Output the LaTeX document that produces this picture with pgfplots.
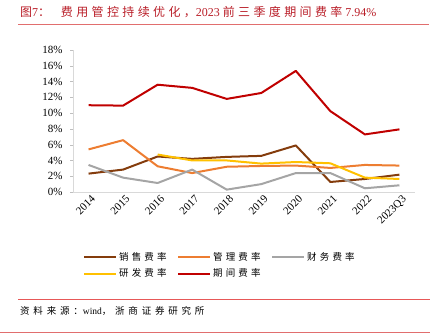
\documentclass[border=0pt]{standalone}
\usepackage{pgfplots}
\pgfplotsset{compat=1.18}
\usepackage{fontspec}
\setmainfont{Liberation Serif}
\newfontfamily\cjk{Noto Sans CJK SC}
\newfontfamily\cjktitle[LetterSpace=28]{Noto Sans CJK SC}
\newfontfamily\cjksrc[LetterSpace=40]{Noto Sans CJK SC}
\newfontfamily\cjkleg[LetterSpace=34]{Noto Sans CJK SC}
\definecolor{cxs}{HTML}{843C0C}
\definecolor{cgl}{HTML}{ED7D31}
\definecolor{ccw}{HTML}{A5A5A5}
\definecolor{cyf}{HTML}{FFC000}
\definecolor{cqj}{HTML}{C00000}
\definecolor{ctitle}{RGB}{185,30,40}
\definecolor{crule}{RGB}{225,110,110}
\begin{document}
\begin{tikzpicture}[x=1pt,y=1pt]
\path[use as bounding box] (0,0) rectangle (443,-336);
\node[anchor=west,text=ctitle,font=\fontsize{12}{14}\selectfont,inner sep=0pt] at (20,-12)
  {{\cjktitle 图}7{\cjktitle ：}\hspace{0.9em}{\cjktitle 费用管控持续优化，}2023 {\cjktitle 前三季度期间费率} 7.94\%};
\draw[crule,line width=1.2pt] (18,-24.5) -- (429,-24.5);
\draw[crule!80!red,line width=0.8pt] (18,-299) -- (430,-299);
\draw[crule,line width=1pt] (0,-332) -- (430,-332);
\node[anchor=west,font=\fontsize{9.5}{11}\selectfont,inner sep=0pt] at (20,-311)
  {{\cjksrc 资料来源：}wind{\cjksrc ，浙商证券研究所}};
\begin{axis}[
  at={(73pt,-50pt)}, anchor=north west,
  scale only axis, width=342pt, height=142pt,
  xmin=-0.45, xmax=9.45, ymin=0, ymax=18,
  axis lines=left, axis line style={draw=black!15,-},
  xtick={0,...,9},
  xticklabels={2014,2015,2016,2017,2018,2019,2020,2021,2022,2023Q3},
  x tick label style={rotate=45,anchor=north east,inner sep=1pt,xshift=3pt},
  xtick style={draw=none},
  ytick={0,2,...,18},
  yticklabel={\pgfmathprintnumber{\tick}\%},
  y tick label style={xshift=-4pt},
  ytick style={draw=black!25},
  tick align=outside, major tick length=3pt,
  /pgf/number format/assume math mode=true,
  tick label style={font=\fontsize{11}{13}\selectfont},
  every axis plot/.append style={line width=2pt, line join=round},
  legend columns=3,
  legend style={at={(rel axis cs:0.02,-0.395)}, anchor=north west, draw=none,
    font=\fontsize{9.5}{11}\selectfont\cjkleg, row sep=3pt,
    /tikz/every even column/.append style={column sep=4pt}},
  legend cell align=left,
  legend image code/.code={\draw[#1] (0pt,0pt) -- (32pt,0pt);},
]
\addplot[cxs] coordinates {(0,2.33)(1,2.84)(2,4.5)(3,4.2)(4,4.45)(5,4.58)(6,5.9)(7,1.27)(8,1.65)(9,2.2)};
\addplot[cgl] coordinates {(0,5.4)(1,6.57)(2,3.26)(3,2.4)(4,3.2)(5,3.3)(6,3.35)(7,3.05)(8,3.43)(9,3.35)};
\addplot[ccw] coordinates {(0,3.43)(1,1.82)(2,1.14)(3,2.84)(4,0.3)(5,1.0)(6,2.4)(7,2.4)(8,0.47)(9,0.85)};
\addplot[cyf] coordinates {(2,4.75)(3,4.0)(4,4.0)(5,3.6)(6,3.8)(7,3.64)(8,1.82)(9,1.65)};
\addplot[cqj] coordinates {(0,11.0)(1,10.95)(2,13.6)(3,13.2)(4,11.8)(5,12.55)(6,15.35)(7,10.25)(8,7.3)(9,7.94)};
\legend{\makebox[52pt][l]{销售费率},\makebox[52pt][l]{管理费率},财务费率,研发费率,期间费率}
\end{axis}
\end{tikzpicture}
\end{document}
